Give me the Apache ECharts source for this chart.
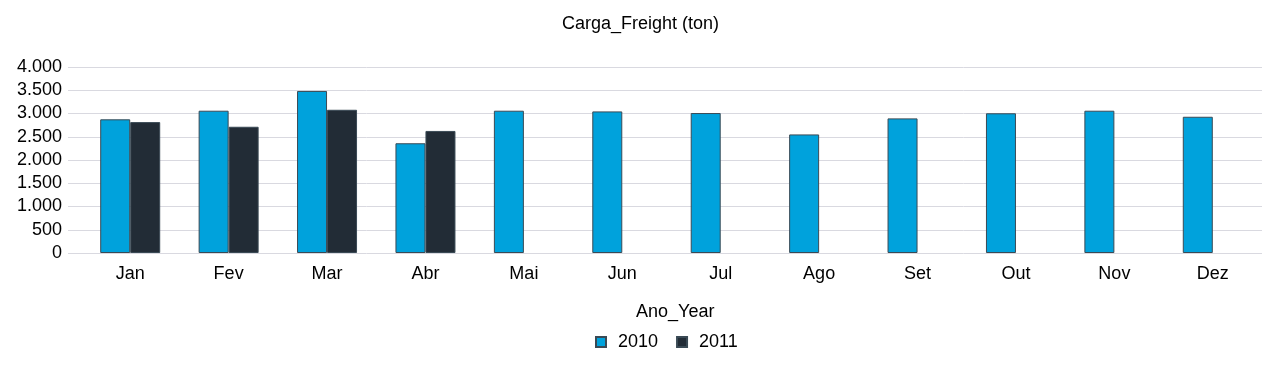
<!DOCTYPE html>
<html><head><meta charset="utf-8">
<script src="https://cdn.jsdelivr.net/npm/echarts@6/dist/echarts.min.js"></script>
<style>html,body{margin:0;padding:0;background:#fff}#c{width:1281px;height:371px}</style>
</head><body><div id="c"></div>
<script>
const categories = ['Jan','Fev','Mar','Abr','Mai','Jun','Jul','Ago','Set','Out','Nov','Dez'];
const s2010 = [2875, 3060, 3485, 2360, 3060, 3045, 3010, 2550, 2895, 3005, 3060, 2930];
const s2011 = [2815, 2715, 3080, 2625, null, null, null, null, null, null, null, null];
const yTicks = [0, 500, 1000, 1500, 2000, 2500, 3000, 3500, 4000];
const font = 'Liberation Sans, Arial, sans-serif';
const fmt = v => v.toString().replace(/\B(?=(\d{3})+(?!\d))/g,'.');
const chart = echarts.init(document.getElementById('c'), null, {renderer:'canvas'});
chart.setOption({
  animation:false,
  backgroundColor:'#fff',
  title:[
    {text:'Carga_Freight (ton)', left:'center', top:10, textStyle:{fontFamily:font, fontSize:18, fontWeight:'normal', color:'#000'}},
    {text:'Ano_Year', left:631, top:298, textStyle:{fontFamily:font, fontSize:18, fontWeight:'normal', color:'#000'}}
  ],
  legend:{top:328, left:590, itemWidth:10, itemHeight:10, itemGap:18, icon:'rect',
    textStyle:{fontFamily:font, fontSize:18, color:'#000', padding:[0,0,0,7]}, data:['2010','2011']},
  grid:[
    {left:68, right:19, top:67, bottom:118},
    {left:81, right:19, top:67, bottom:118}
  ],
  xAxis:[
    {gridIndex:0, type:'value', show:false, min:0, max:1},
    {gridIndex:1, type:'category', data:categories,
      axisLine:{show:false}, axisTick:{show:false},
      axisLabel:{fontFamily:font, fontSize:18, color:'#000', margin:12}}
  ],
  yAxis:[
    {gridIndex:0, type:'value', min:yTicks[0], max:yTicks[yTicks.length-1], interval:500,
      axisLine:{show:false}, axisTick:{show:false},
      splitLine:{lineStyle:{color:'#d9d9e0', width:1}},
      axisLabel:{fontFamily:font, fontSize:18, color:'#000', margin:6, formatter:fmt}},
    {gridIndex:1, type:'value', min:yTicks[0], max:yTicks[yTicks.length-1], interval:500,
      show:false, splitLine:{show:false}}
  ],
  series:[
    {name:'2010', type:'bar', xAxisIndex:1, yAxisIndex:1, data:s2010, barWidth:30, barGap:'0%',
      itemStyle:{color:'#00A2DC', borderColor:'#3a4a55', borderWidth:1}},
    {name:'2011', type:'bar', xAxisIndex:1, yAxisIndex:1, data:s2011, barWidth:30, barGap:'0%',
      itemStyle:{color:'#222C36', borderColor:'#3a4a55', borderWidth:1}}
  ]
});
</script></body></html>
